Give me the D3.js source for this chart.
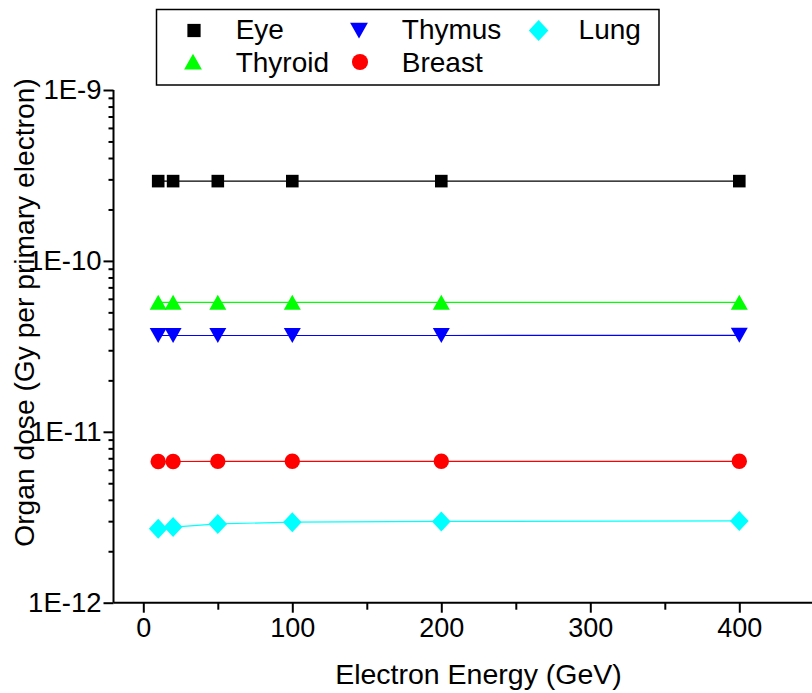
<!DOCTYPE html>
<html>
<head>
<meta charset="utf-8">
<script src="https://cdn.jsdelivr.net/npm/d3@7"></script>
<style>
  html, body { margin: 0; padding: 0; background: #fff; }
  svg { display: block; font-family: "Liberation Sans", Arial, sans-serif; }
</style>
</head>
<body>
<svg id="chart" width="812" height="693"></svg>
<script>
// Electron beam energies (GeV)
const energies = [10, 20, 50, 100, 200, 400];

// Organ dose per primary electron (Gy)
const eyeDose     = [2.93e-10, 2.93e-10, 2.93e-10, 2.93e-10, 2.93e-10, 2.93e-10];
const thyroidDose = [5.72e-11, 5.72e-11, 5.72e-11, 5.72e-11, 5.72e-11, 5.72e-11];
const thymusDose  = [3.66e-11, 3.66e-11, 3.66e-11, 3.66e-11, 3.66e-11, 3.67e-11];
const breastDose  = [6.70e-12, 6.70e-12, 6.71e-12, 6.72e-12, 6.72e-12, 6.72e-12];
const lungDose    = [2.71e-12, 2.77e-12, 2.89e-12, 2.96e-12, 2.99e-12, 3.01e-12];

const xTicks = [0, 100, 200, 300, 400];
const xMinorTicks = [50, 150, 250, 350, 450];
const yTicks = [1e-12, 1e-11, 1e-10, 1e-9];
const yTickLabels = ["1E-12", "1E-11", "1E-10", "1E-9"];

const series = [
  { name: "Eye",     values: eyeDose,     color: "#000000", symbol: "square" },
  { name: "Thyroid", values: thyroidDose, color: "#00ff00", symbol: "up" },
  { name: "Thymus",  values: thymusDose,  color: "#0000ff", symbol: "down" },
  { name: "Breast",  values: breastDose,  color: "#ff0000", symbol: "circle" },
  { name: "Lung",    values: lungDose,    color: "#00ffff", symbol: "diamond" }
];

const svg = d3.select("#chart");

const x = d3.scaleLinear().domain([-20, 450]).range([113.5, 813.8]);
const y = d3.scaleLog().domain([1e-12, 1e-9]).range([602.7, 90]);

// Marker shapes, each centred on its bounding box
function symbolPath(kind, s) {
  const p = d3.path();
  if (kind === "square") {
    const h = 6.3 * s;
    p.rect(-h, -h, 2 * h, 2 * h);
  } else if (kind === "up") {
    const w = 8.5 * s, h = 7.5 * s;
    p.moveTo(0, -h); p.lineTo(w, h); p.lineTo(-w, h); p.closePath();
  } else if (kind === "down") {
    const w = 8.5 * s, h = 7.5 * s;
    p.moveTo(0, h); p.lineTo(w, -h); p.lineTo(-w, -h); p.closePath();
  } else if (kind === "circle") {
    p.arc(0, 0, 7.7 * s, 0, 2 * Math.PI);
  } else if (kind === "diamond") {
    const w = 9.3 * s, h = 10 * s;
    p.moveTo(0, -h); p.lineTo(w, 0); p.lineTo(0, h); p.lineTo(-w, 0); p.closePath();
  }
  return p.toString();
}

// Axes
const xAxis = svg.append("g")
  .attr("transform", "translate(0,602.7)")
  .call(d3.axisBottom(x).tickValues(xTicks).tickSize(10).tickPadding(5).tickFormat(d3.format("d")));
svg.append("g")
  .attr("transform", "translate(0,602.7)")
  .call(d3.axisBottom(x).tickValues(xMinorTicks).tickSize(7).tickFormat(""))
  .select(".domain").remove();

const yMinor = [];
[1e-12, 1e-11, 1e-10].forEach(dec => {
  for (let k = 2; k <= 9; k++) yMinor.push(dec * k);
});

const yAxis = svg.append("g")
  .attr("transform", "translate(113.5,0)")
  .call(d3.axisLeft(y).tickValues(yTicks).tickSize(10).tickPadding(2)
    .tickFormat((d, i) => yTickLabels[i]));
svg.append("g")
  .attr("transform", "translate(113.5,0)")
  .call(d3.axisLeft(y).tickValues(yMinor).tickSize(5).tickFormat(""))
  .select(".domain").remove();

xAxis.select(".domain").attr("d", `M113.5,0H${x(450)}`);
yAxis.select(".domain").attr("d", `M0,${y(1e-9)}V${y(1e-12)}`);

svg.selectAll(".tick line, .domain").attr("stroke", "#000").attr("stroke-width", 2);
xAxis.selectAll(".tick text").attr("font-size", 27).attr("fill", "#000")
  .attr("font-family", "Liberation Sans, Arial, sans-serif");
yAxis.selectAll(".tick text").attr("font-size", 27.5).attr("fill", "#000")
  .attr("font-family", "Liberation Sans, Arial, sans-serif");

// Axis titles
svg.append("text")
  .attr("x", 478.5).attr("y", 683.5)
  .attr("text-anchor", "middle")
  .attr("font-size", 28.5)
  .text("Electron Energy (GeV)");

svg.append("text")
  .attr("transform", "translate(33.5,312.5) rotate(-90)")
  .attr("text-anchor", "middle")
  .attr("font-size", 28.2)
  .text("Organ dose (Gy per primary electron)");

// Series lines and markers
const line = d3.line().x(d => x(d[0])).y(d => y(d[1]));
series.forEach(s => {
  const pts = energies.map((e, i) => [e, s.values[i]]);
  svg.append("path")
    .attr("d", line(pts))
    .attr("fill", "none")
    .attr("stroke", s.color)
    .attr("stroke-width", 1.2);
  svg.append("g").selectAll("path")
    .data(pts)
    .join("path")
    .attr("transform", d => `translate(${x(d[0])},${y(d[1])})`)
    .attr("d", symbolPath(s.symbol, 1))
    .attr("fill", s.color);
});

// Legend
const legend = svg.append("g");
legend.append("rect")
  .attr("x", 156.5).attr("y", 9.5)
  .attr("width", 502.5).attr("height", 75.5)
  .attr("fill", "#fff")
  .attr("stroke", "#000")
  .attr("stroke-width", 1.5);

const legendItems = [
  { s: series[0], sx: 194,   sy: 30.5, tx: 235.7, ty: 38.5 },
  { s: series[2], sx: 359,   sy: 30.5, tx: 401.8, ty: 38.5 },
  { s: series[4], sx: 538.6, sy: 30.5, tx: 578.6, ty: 38.5 },
  { s: series[1], sx: 193,   sy: 61.5, tx: 235.7, ty: 71.5 },
  { s: series[3], sx: 360,   sy: 62,   tx: 401.8, ty: 71.5 }
];
legendItems.forEach(it => {
  legend.append("path")
    .attr("transform", `translate(${it.sx},${it.sy})`)
    .attr("d", symbolPath(it.s.symbol, 1.05))
    .attr("fill", it.s.color);
  legend.append("text")
    .attr("x", it.tx).attr("y", it.ty)
    .attr("font-size", 28)
    .attr("fill", "#000")
    .text(it.s.name);
});
</script>
</body>
</html>
